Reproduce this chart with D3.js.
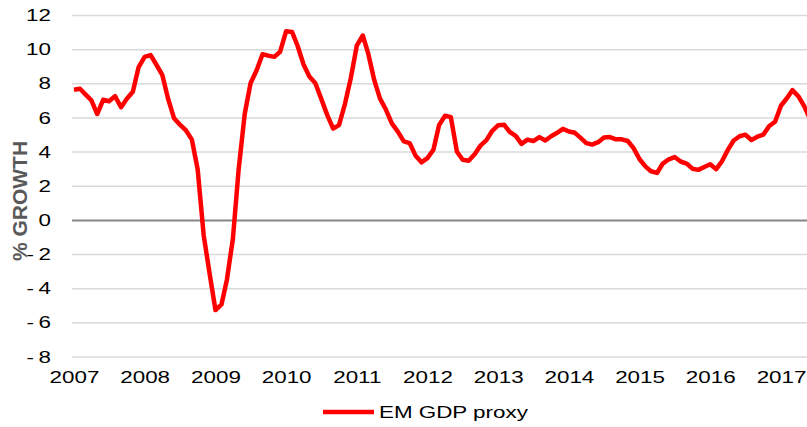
<!DOCTYPE html>
<html>
<head>
<meta charset="utf-8">
<script src="https://cdn.jsdelivr.net/npm/d3@7"></script>
<style>
  body { margin:0; background:#ffffff; }
  svg  { display:block; font-family:"Liberation Sans", Arial, sans-serif; }
</style>
</head>
<body>
<div id="chart_container"></div>
<script>
// Monthly values, first one is Jan 2007.
var series_name  = "EM GDP proxy";
var series_start = new Date(2007, 0, 1);
var series_values = [
  7.62, 7.68, 7.35, 7.00, 6.20, 7.04, 6.95, 7.25, 6.60, 7.10, 7.50, 8.95,
  9.55, 9.65, 9.10, 8.50, 7.10, 5.95, 5.58, 5.25, 4.70, 2.95, -0.90, -3.10,
  -5.28, -4.95, -3.50, -1.10, 3.00, 6.20, 8.00, 8.75, 9.70, 9.62, 9.55, 9.85,
  11.05, 11.00, 10.20, 9.10, 8.40, 8.00, 7.10, 6.15, 5.35, 5.55, 6.80, 8.30,
  10.20, 10.80, 9.75, 8.20, 7.10, 6.45, 5.65, 5.17, 4.60, 4.50, 3.75, 3.37,
  3.62, 4.11, 5.55, 6.10, 6.02, 4.01, 3.52, 3.46, 3.85, 4.35, 4.67, 5.22,
  5.55, 5.57, 5.15, 4.92, 4.45, 4.70, 4.62, 4.85, 4.65, 4.90, 5.10, 5.33,
  5.18, 5.10, 4.82, 4.50, 4.41, 4.55, 4.82, 4.85, 4.72, 4.72, 4.62, 4.20,
  3.55, 3.12, 2.85, 2.75, 3.30, 3.55, 3.68, 3.42, 3.30, 3.00, 2.93, 3.10,
  3.26, 2.97, 3.42, 4.10, 4.65, 4.90, 4.99, 4.68, 4.87, 4.99, 5.50, 5.75,
  6.70, 7.14, 7.60, 7.23, 6.65, 5.87
];
var y_ticks    = [-8, -6, -4, -2, 0, 2, 4, 6, 8, 10, 12];
var x_years    = [2007, 2008, 2009, 2010, 2011, 2012, 2013, 2014, 2015, 2016, 2017];
var axis_title = "% GROWTH";

var chart_dimension = { height:427, width:807 };
var chart_margin    = { top:15, right:0, bottom:70.5, left:74 };
var text_stretch    = 1.4;

var series_data = series_values.map(function (_value, _i) {
  return { date:d3.timeMonth.offset(series_start, _i), value:_value };
});

var scale_x = d3.scaleTime()
  .domain([series_start, new Date(2017, 4, 15)])
  .range([chart_margin.left, chart_dimension.width - chart_margin.right]);
var scale_y = d3.scaleLinear()
  .domain([-8, 12])
  .range([chart_dimension.height - chart_margin.bottom, chart_margin.top]);

var chart_svg = d3.select("#chart_container").append("svg")
  .attr("height", chart_dimension.height)
  .attr("width" , chart_dimension.width);

// Grid lines and y tick labels come from the left axis.
var grid_left = 72;
var axis_y = chart_svg.append("g")
  .attr("transform", "translate(" + grid_left + ",0)")
  .call(
    d3.axisLeft(scale_y)
      .tickValues(y_ticks)
      .tickSize(-(chart_dimension.width - grid_left))
      .tickPadding(0)
      .tickFormat(function (d) { return d < 0 ? "-\u2009" + Math.abs(d) : String(d); })
  );
axis_y.select(".domain").remove();
axis_y.selectAll(".tick line")
  .attr("stroke"      , function (d) { return d === 0 ? "#858585" : "#d9d9d9"; })
  .attr("stroke-width", function (d) { return d === 0 ? 2 : 1.5; });
axis_y.selectAll(".tick text")
  .attr("x"          , -21/text_stretch)
  .attr("dy"         , null)
  .attr("y"          , 5.6)
  .attr("transform"  , "scale(" + text_stretch + ",1)")
  .attr("fill"       , "#000000")
  .attr("font-size"  , 16)
  .attr("font-family", "Liberation Sans, Arial, sans-serif");

var axis_x = chart_svg.append("g")
  .attr("transform", "translate(0,371)")
  .call(
    d3.axisBottom(scale_x)
      .tickValues(x_years.map(function (d) { return new Date(d, 0, 1); }))
      .tickSize(0)
      .tickFormat(d3.timeFormat("%Y"))
  );
axis_x.select(".domain").remove();
axis_x.selectAll(".tick text")
  .attr("dy"         , null)
  .attr("y"          , 12)
  .attr("transform"  , "scale(" + text_stretch + ",1)")
  .attr("fill"       , "#000000")
  .attr("font-size"  , 16)
  .attr("font-family", "Liberation Sans, Arial, sans-serif");

chart_svg.append("text")
  .attr("transform"  , "translate(27,201) rotate(-90)")
  .attr("text-anchor", "middle")
  .attr("fill"       , "#595959")
  .attr("font-size"  , 21)
  .attr("font-weight", "bold")
  .text(axis_title);

var series_line = d3.line()
  .x(function (d) { return scale_x(d.date); })
  .y(function (d) { return scale_y(d.value); });

chart_svg.append("path")
  .datum(series_data)
  .attr("d"              , series_line)
  .attr("fill"           , "none")
  .attr("stroke"         , "#ff0000")
  .attr("stroke-width"   , 4.5)
  .attr("stroke-linejoin", "round");

// Legend under the axis.
var legend_g = chart_svg.append("g").attr("transform", "translate(323,412)");
legend_g.append("line")
  .attr("x1"          , 0)
  .attr("x2"          , 51)
  .attr("y1"          , 0)
  .attr("y2"          , 0)
  .attr("stroke"      , "#ff0000")
  .attr("stroke-width", 4.5);
legend_g.append("text")
  .attr("x"        , 56/text_stretch)
  .attr("y"        , 6)
  .attr("transform", "scale(" + text_stretch + ",1)")
  .attr("font-size", 16)
  .attr("fill"     , "#000000")
  .text(series_name);
</script>
</body>
</html>
